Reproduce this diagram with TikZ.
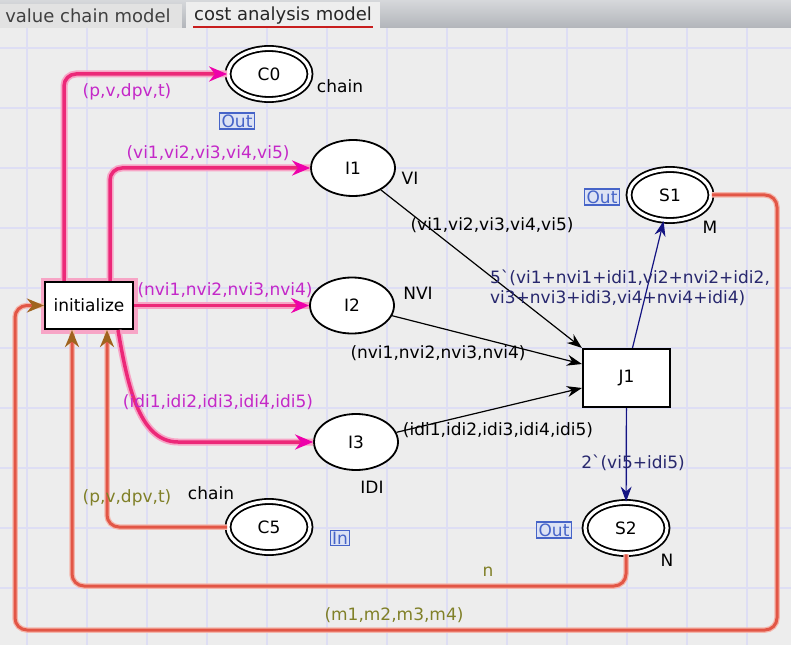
\documentclass[tikz,border=0pt]{standalone}
\usepackage{fontspec}
\setmainfont{DejaVu Sans}
\usetikzlibrary{arrows.meta,positioning,shapes.geometric}

\definecolor{canvasbg}{RGB}{237,237,237}
\definecolor{gridline}{RGB}{222,222,244}
\definecolor{tabbar}{RGB}{178,181,186}
\definecolor{tabtop}{RGB}{214,216,219}
\definecolor{tabone}{RGB}{226,226,226}
\definecolor{tabtwo}{RGB}{238,238,238}
\definecolor{tabred}{RGB}{200,30,30}
\definecolor{arcpink}{RGB}{236,40,120}
\definecolor{glowpink}{RGB}{247,165,198}
\definecolor{tippink}{RGB}{238,0,170}
\definecolor{txtpink}{RGB}{196,40,200}
\definecolor{arcred}{RGB}{226,86,70}
\definecolor{glowred}{RGB}{244,182,172}
\definecolor{tipbrown}{RGB}{160,100,30}
\definecolor{txtolive}{RGB}{128,128,40}
\definecolor{arcnavy}{RGB}{20,20,130}
\definecolor{txtnavy}{RGB}{40,40,110}
\definecolor{portblue}{RGB}{70,100,200}
\definecolor{portfill}{RGB}{220,226,244}

\tikzset{
  place/.style={ellipse, draw, line width=1.8bp, fill=white,
    minimum width=84bp, minimum height=56bp, inner sep=0pt},
  fusion/.style={ellipse, draw, double=white, double distance=3.2bp,
    line width=1.8bp, fill=white, minimum width=82bp, minimum height=51bp, inner sep=0pt},
  trans/.style={rectangle, draw, line width=2.2bp, fill=white, inner sep=0pt},
  lbl/.style={inner sep=0pt},
  port/.style={draw=portblue, fill=portfill, text=portblue, line width=1.2bp,
    inner xsep=2bp, inner ysep=1.5bp},
  pinkarc/.style={draw=arcpink, line width=3.5bp, rounded corners=12bp,
    preaction={draw=glowpink, line width=7bp, arrows=-},
    -{Stealth[length=18bp 0, width=15bp 0, color=tippink]}},
  redarc/.style={draw=arcred, line width=3bp, rounded corners=12bp,
    preaction={draw=glowred, line width=5.5bp, arrows=-},
    -{Stealth[length=17bp 0, width=14bp 0, color=tipbrown]}},
  blackarc/.style={line width=1.2bp, -{Stealth[length=15bp 0, width=11bp 0]}},
  navyarc/.style={draw=arcnavy, line width=1.2bp, -{Stealth[length=15bp 0, width=11bp 0, color=arcnavy]}},
}

\begin{document}
\begin{tikzpicture}[x=1bp, y=-1bp, font=\fontsize{17bp}{20bp}\selectfont]
  % поле и сетка
  \path[use as bounding box] (0,0) rectangle (791,645);
  \fill[canvasbg] (0,28) rectangle (791,645);
  \foreach \gx in {27,87,...,747}
    \draw[gridline, line width=2bp] (\gx,28) -- (\gx,645);
  \foreach \gy in {48,108,...,588}
    \draw[gridline, line width=2bp] (0,\gy) -- (791,\gy);

  % вкладки
  \shade[top color=tabtop, bottom color=tabbar] (0,0) rectangle (791,28);
  \fill[tabone] (0,4) rectangle (182,28);
  \fill[tabtwo] (186,2) rectangle (380,28);
  \node[lbl, text=black!75, font=\fontsize{18bp}{20bp}\selectfont] (tabA) at (88,16) {value chain model};
  \node[lbl, text=black!85, font=\fontsize{18bp}{20bp}\selectfont] (tabB) at (283,16) {cost analysis model};
  \draw[tabred, line width=2bp] (193,27) -- (373,27);

  % места и переходы
  \node[trans, minimum width=88bp, minimum height=47bp,
    preaction={draw=glowpink, line width=9bp}] (init) at (89,305.5) {initialize};
  \node[trans, minimum width=87bp, minimum height=58bp] (J1) at (626.5,378) {J1};
  \node[fusion] (C0) at (269,74) {C0};
  \node[place] (I1) at (353,168) {I1};
  \node[place] (I2) at (352,305.5) {I2};
  \node[place] (I3) at (356,442) {I3};
  \node[fusion] (C5) at (269,527) {C5};
  \node[fusion] (S1) at (670,195) {S1};
  \node[fusion] (S2) at (626,528) {S2};

  % подписи мест
  \node[lbl] (tC0) at (340,86) {chain};
  \node[lbl] (tI1) at (410,178) {VI};
  \node[lbl] (tI2) at (418,293) {NVI};
  \node[lbl] (tI3) at (372,487) {IDI};
  \node[lbl] (tC5) at (211,493) {chain};
  \node[lbl] (tS1) at (710,227) {M};
  \node[lbl] (tS2) at (667,560) {N};
  \node[port] (pC0) at (237,121) {Out};
  \node[port] (pS1) at (602,197) {Out};
  \node[port] (pS2) at (554,530) {Out};
  \node[port] (pC5) at (340,538) {In};

  % дуги
  \draw[redarc] (S1.east) -| (777,630) -| (15,305.5) -- (init.west);
  \draw[redarc] (S2) |- (72,586) -- ([xshift=-17bp]init.south);
  \draw[redarc] (C5) -| ([xshift=18bp]init.south);
  \draw[pinkarc] ([xshift=-25bp]init.north) |- (C0);
  \draw[pinkarc] ([xshift=21bp]init.north) |- (I1);
  \draw[pinkarc] (init) -- (I2);
  \draw[pinkarc] ([xshift=29bp]init.south) to[out=-80, in=180] (190,442) -- (I3);
  \draw[blackarc] (I1) -- (J1.north west);
  \draw[blackarc] (I2) -- ([yshift=14bp]J1.west);
  \draw[blackarc] (I3) -- ([yshift=-10bp]J1.west);
  \draw[navyarc] ([xshift=6bp]J1.north) -- (S1);
  \draw[navyarc] (J1) -- (S2);

  % надписи дуг
  \node[lbl, text=txtpink] (lC0) at (127,92) {(p,v,dpv,t)};
  \node[lbl, text=txtpink] (lI1) at (208,153) {(vi1,vi2,vi3,vi4,vi5)};
  \node[lbl, text=txtpink] (lI2) at (225,290) {(nvi1,nvi2,nvi3,nvi4)};
  \node[lbl, text=txtpink] (lI3) at (218,402) {(idi1,idi2,idi3,idi4,idi5)};
  \node[lbl] (kI1) at (492,225) {(vi1,vi2,vi3,vi4,vi5)};
  \node[lbl] (kI2) at (438,353) {(nvi1,nvi2,nvi3,nvi4)};
  \node[lbl] (kI3) at (498,430) {(idi1,idi2,idi3,idi4,idi5)};
  \node[lbl, text=txtnavy, align=left] (kS1) at (630,288)
    {5\textasciigrave(vi1+nvi1+idi1,vi2+nvi2+idi2,\\vi3+nvi3+idi3,vi4+nvi4+idi4)};
  \node[lbl, text=txtnavy] (kS2) at (633,463) {2\textasciigrave(vi5+idi5)};
  \node[lbl, text=txtolive] (lC5) at (127,498) {(p,v,dpv,t)};
  \node[lbl, text=txtolive] (lS2) at (488,572) {n};
  \node[lbl, text=txtolive] (lS1) at (394,615) {(m1,m2,m3,m4)};
\end{tikzpicture}
\end{document}
